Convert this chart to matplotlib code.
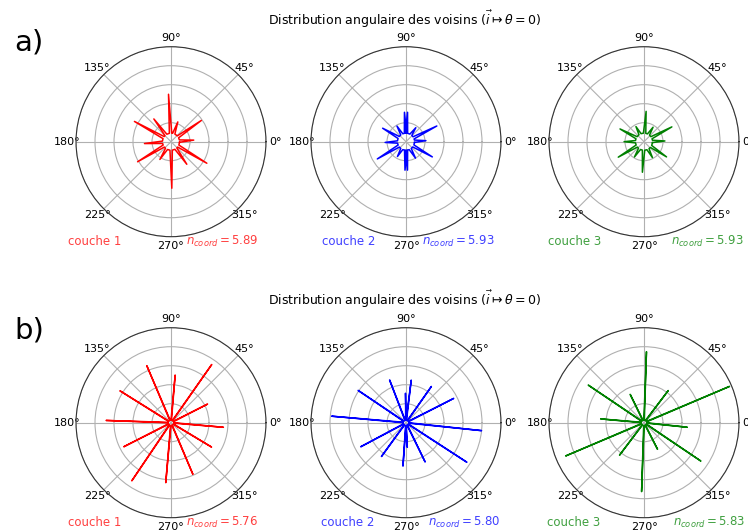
import numpy as np
import matplotlib
matplotlib.use("Agg")
import matplotlib.pyplot as plt

W, H = 748, 532

# peak angles (deg) and heights of the neighbour angular distribution, per layer
ang_a1 = [4, 35, 71, 93, 127, 151, 184, 211, 238, 271, 305, 329]
rad_a1 = [1.2, 1.95, 1.1, 2.5, 1.5, 2.2, 1.4, 2.05, 1.1, 2.45, 1.45, 2.2]
ang_a2 = [3, 27, 55, 87, 93, 120, 150, 182, 211, 240, 268, 273, 300, 330]
rad_a2 = [1.05, 1.82, 0.9, 1.55, 1.55, 0.95, 1.42, 1.1, 1.76, 0.9, 1.5, 1.5, 1.0, 1.6]
ang_a3 = [2, 28, 58, 86, 118, 152, 180, 211, 238, 267, 298, 326]
rad_a3 = [1.1, 1.66, 0.9, 1.6, 0.9, 1.43, 1.05, 1.58, 0.95, 1.61, 0.95, 1.43]
ang_b1 = [27, 55, 85, 113, 148, 178, 207, 236, 265, 293, 329, 355]
rad_b1 = [2.16, 3.74, 2.52, 3.26, 3.17, 3.42, 2.79, 3.69, 3.17, 2.95, 2.49, 2.77]
ang_b2 = [27, 55, 83, 91, 111, 146, 175, 208, 234, 266, 273, 296, 327, 354]
rad_b2 = [2.82, 2.33, 2.26, 1.55, 2.41, 3.04, 3.93, 2.70, 2.20, 2.29, 1.3, 2.30, 3.82, 4.0]
ang_b3 = [23, 53, 88, 116, 146, 175, 203, 233, 268, 297, 326, 354]
rad_b3 = [4.89, 2.12, 3.74, 1.66, 3.54, 2.29, 4.48, 2.14, 3.63, 1.57, 3.61, 2.29]

layers = ["couche 1", "couche 2", "couche 3"]
colors = ["red", "blue", "green"]
ncoord_a = [5.89, 5.93, 5.93]
ncoord_b = [5.76, 5.80, 5.83]

title = r"Distribution angulaire des voisins ($\vec{i} \mapsto \theta = 0$)"


def spike_curve(ang, rad, base, half):
    th, r = [], []
    for a, h in sorted(zip(ang, rad)):
        th += [a - half, a, a + half]
        r += [base, h, base]
    th.append(th[0]); r.append(r[0])
    return np.radians(th), np.array(r)


fig = plt.figure(figsize=(W / 100, H / 100), dpi=100)

centers_x = [171, 406, 644]
rows = [
    (141.7, [ang_a1, ang_a2, ang_a3], [rad_a1, rad_a2, rad_a3], ncoord_a, 0.45, 8.0),
    (422.7, [ang_b1, ang_b2, ang_b3], [rad_b1, rad_b2, rad_b3], ncoord_b, 0.15, 4.5),
]
R = 95
text_left = [[68, 322, 548], [68, 321, 547]]
text_right = [[258, 495, 744], [258, 500, 745]]

for ri, (cy, angs, rads, ncs, base, half) in enumerate(rows):
    for ci in range(3):
        cx = centers_x[ci]
        ax = fig.add_axes([(cx - R) / W, 1 - (cy + R) / H, 2 * R / W, 2 * R / H],
                          projection="polar")
        th, r = spike_curve(angs[ci], rads[ci], base, half)
        ax.plot(th, r, color=colors[ci], lw=1.1)
        ax.set_rlim(0, 5)
        ax.set_rticks([1, 2, 3, 4, 5])
        ax.set_yticklabels([])
        ax.tick_params(axis="x", labelsize=8, pad=-4)
        ax.grid(True, color="#b0b0b0", lw=0.8)
        ax.spines["polar"].set_color("#333333")
        ty = (cy + R + 5) / H
        fig.text(text_left[ri][ci] / W, 1 - ty, layers[ci], color=colors[ci],
                 alpha=0.75, fontsize=8.5, ha="left", va="center")
        fig.text(text_right[ri][ci] / W, 1 - ty,
                 r"$n_{coord} = %.2f$" % ncs[ci], color=colors[ci],
                 alpha=0.75, fontsize=8.5, ha="right", va="center")

fig.text(405 / W, 1 - 19 / H, title, fontsize=9, ha="center", va="center")
fig.text(405 / W, 1 - 299 / H, title, fontsize=9, ha="center", va="center")
fig.text(14 / W, 1 - 42 / H, "a)", fontsize=21, ha="left", va="center")
fig.text(14 / W, 1 - 330 / H, "b)", fontsize=21, ha="left", va="center")

fig.savefig("out.png", dpi=100, facecolor="white")
